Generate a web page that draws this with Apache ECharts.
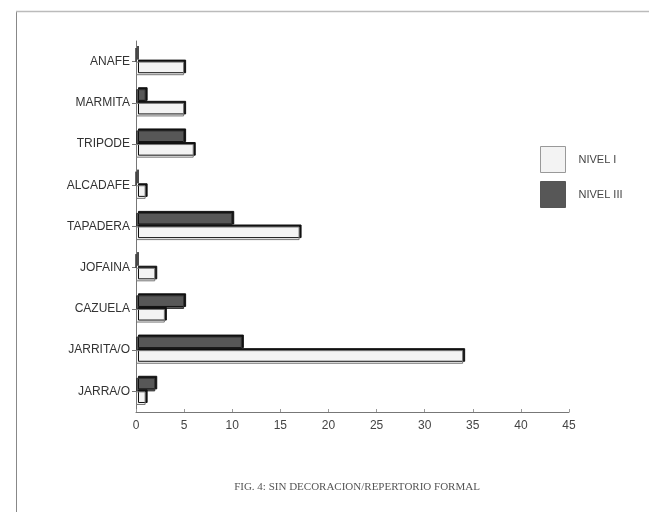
<!DOCTYPE html>
<html>
<head>
<meta charset="utf-8">
<script src="https://cdn.jsdelivr.net/npm/echarts@6/dist/echarts.min.js"></script>
<style>
  html, body { margin: 0; padding: 0; background: #ffffff; }
  #chart { width: 649px; height: 512px; }
</style>
</head>
<body>
<div id="chart"></div>
<script>
// Vessel types, listed top to bottom
const categories = ['ANAFE', 'MARMITA', 'TRIPODE', 'ALCADAFE', 'TAPADERA', 'JOFAINA', 'CAZUELA', 'JARRITA/O', 'JARRA/O'];
// Counts per level
const nivelI   = [5, 5, 6, 1, 17, 2, 3, 34, 1];
const nivelIII = [0, 1, 5, 0, 10, 0, 5, 11, 2];
const seriesNames = ['NIVEL I', 'NIVEL III'];
const xTicks = { min: 0, max: 45, interval: 5 };
const caption = 'FIG. 4: SIN DECORACION/REPERTORIO FORMAL';

const chart = echarts.init(document.getElementById('chart'), null, { renderer: 'canvas' });

// hard-edged dark outline on the top and right of every bar
const barShadow = { shadowColor: '#111', shadowBlur: 0, shadowOffsetX: 2, shadowOffsetY: -2 };

chart.setOption({
  backgroundColor: '#ffffff',
  animation: false,
  title: {
    text: caption,
    left: 352, top: 477, textAlign: 'center',
    textStyle: { fontFamily: 'Liberation Serif', fontWeight: 'normal', fontSize: 11, color: '#555' }
  },
  legend: {
    data: [
      { name: seriesNames[0], itemStyle: { borderColor: '#999', borderWidth: 1, shadowOffsetX: 0, shadowOffsetY: 0 } },
      { name: seriesNames[1], itemStyle: { borderColor: '#555', borderWidth: 1, shadowOffsetX: 0, shadowOffsetY: 0 } }
    ],
    orient: 'vertical',
    left: 540, top: 146, padding: 0,
    itemWidth: 25, itemHeight: 26, itemGap: 8,
    icon: 'rect',
    textStyle: { fontFamily: 'Liberation Sans', fontSize: 11, color: '#444', padding: [0, 0, 0, 8] }
  },
  grid: { left: 136, right: 80, top: 41, bottom: 100 },
  xAxis: {
    type: 'value',
    min: xTicks.min, max: xTicks.max, interval: xTicks.interval,
    axisLine: { show: true, lineStyle: { color: '#777', width: 1 } },
    axisTick: { show: true, inside: true, length: 3, lineStyle: { color: '#999' } },
    axisLabel: { fontFamily: 'Liberation Sans', fontSize: 12, color: '#444', margin: 8 },
    splitLine: { show: false }
  },
  yAxis: {
    type: 'category',
    data: categories,
    inverse: true,
    axisLine: { show: true, lineStyle: { color: '#777', width: 1 } },
    axisTick: { show: true, alignWithLabel: true, length: 4, lineStyle: { color: '#777' } },
    axisLabel: { fontFamily: 'Liberation Sans', fontSize: 12, color: '#333', margin: 6 }
  },
  series: [
    {
      name: seriesNames[1], type: 'bar', data: nivelIII,
      barGap: '0%', barCategoryGap: '34%',
      itemStyle: Object.assign({ color: '#575757', borderColor: '#333', borderWidth: 1 }, barShadow)
    },
    {
      name: seriesNames[0], type: 'bar', data: nivelI,
      barGap: '0%', barCategoryGap: '34%',
      itemStyle: Object.assign({ color: '#f3f3f3', borderColor: '#777', borderWidth: 1 }, barShadow)
    }
  ],
  graphic: [
    { type: 'line', shape: { x1: 16.5, y1: 11, x2: 16.5, y2: 512 }, style: { stroke: '#888', lineWidth: 1 } },
    { type: 'line', shape: { x1: 16, y1: 11.5, x2: 649, y2: 11.5 }, style: { stroke: '#bbb', lineWidth: 1.5 } }
  ]
});
</script>
</body>
</html>
